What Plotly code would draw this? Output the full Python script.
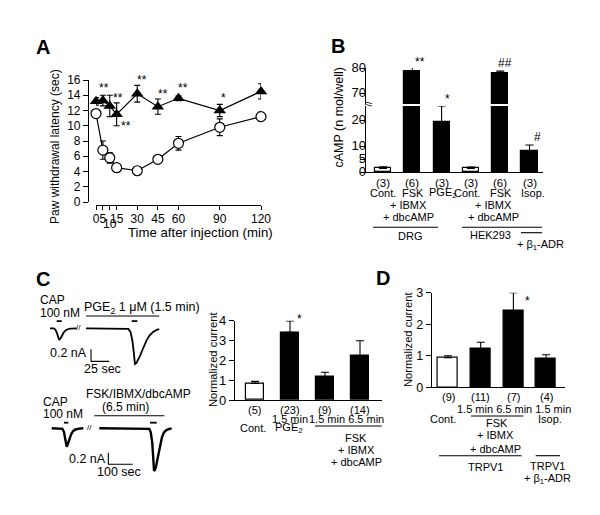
import plotly.graph_objects as go

W, H = 600, 515
def P(x): return x / W
def Q(y): return 1 - y / H

FONT = "Liberation Sans, Arial, Helvetica, sans-serif"

# ---------------- Panel A data ----------------
a_time = [0, 5, 10, 15, 30, 45, 60, 90, 120]
a_ctrl = [11.6, 6.8, 5.8, 4.5, 4.1, 5.6, 7.7, 9.8, 11.2]
a_ctrl_err = [0.3, 1.2, 0.7, 0.3, 0.2, 0.5, 0.9, 1.1, 0.6]
a_treat = [13.2, 13.3, 12.6, 11.5, 14.2, 12.5, 13.6, 12.0, 14.5]
a_treat_err = [0.5, 0.7, 1.4, 1.5, 1.1, 1.0, 0.3, 0.8, 1.0]
a_tickvals = [0, 5, 10, 15, 30, 45, 60, 90, 120]
a_ticktext = ["0", "5", "", "15", "30", "45", "60", "90", "120"]
a_star_text = ["**", "**", "**", "**", "**", "**", "*"]
a_star_x = [5.5, 16, 21.5, 33.5, 48.5, 63.5, 92.5]
a_star_y = [14.9, 13.7, 10.0, 16.0, 14.2, 15.0, 13.7]

# ---------------- Panel B data ----------------
b_n = ["(3)", "(6)", "(3)", "(3)", "(6)", "(3)"]
b_names = ["Cont.", "FSK", "PGE<sub>2</sub>", "Cont.", "FSK", "Isop."]
b_vals = [1.5, 78.7, 19.4, 1.5, 78.1, 8.3]
b_err = [0.6, 1.7, 6.1, 0.5, 0.8, 2.2]
b_fill = ["white", "black", "black", "white", "black", "black"]
b_low_ticks = [0, 5, 10, 20]
b_high_ticks = [70, 80]
b_star_text = ["**", "*", "##", "#"]
b_star_x = [1.25, 2.2, 4.15, 5.26]
b_star_y = [82.3, 68.0, 82.0, 13.4]

# ---------------- Panel C data ----------------
# current traces (time in sec, current in nA)
c1_seg1_t = [13.7, 19, 21, 23, 25, 26.4, 28, 30, 32.5, 35, 38, 42, 50.3]
c1_seg1_i = [0, 0, -0.02, -0.07, -0.15, -0.195, -0.17, -0.12, -0.07, -0.035, -0.015, -0.005, 0]
c1_seg2_t = [63, 90, 115, 121, 124, 126.5, 128.5, 130.1, 132, 134.5, 137, 140, 143, 146, 150, 155, 160, 163.4]
c1_seg2_i = [0.0, 0.0, 0.0, -0.01, -0.06, -0.2, -0.4, -0.595, -0.58, -0.53, -0.46, -0.37, -0.28, -0.2, -0.12, -0.06, -0.025, -0.015]
c1_cap_t = [[22.9, 29.7], [125.6, 133.3]]
c1_cap_i = 0.12
c1_drug_t = [63, 163.4]
c1_drug_i = 0.205
c1_scale_t = [69.9, 69.9, 94.9]
c1_scale_i = [-0.35, -0.55, -0.55]

c2_seg1_t = [48, 80, 92, 98, 104, 109.4, 114, 120, 127, 135, 145, 160, 177.5]
c2_seg1_i = [0, 0, -0.01, -0.06, -0.18, -0.317, -0.27, -0.19, -0.11, -0.05, -0.02, -0.005, 0]
c2_seg2_t = [243, 350, 440, 448, 454, 460, 464, 467.2, 471, 476, 482, 488, 494, 500, 508, 518, 530, 539.8]
c2_seg2_i = [0, 0, 0, -0.01, -0.07, -0.25, -0.5, -0.731, -0.72, -0.65, -0.52, -0.38, -0.25, -0.15, -0.07, -0.03, -0.01, 0]
c2_cap_t = [[98.4, 116], [450.8, 478.3]]
c2_cap_i = 0.097
c2_drug_t = [222.5, 509.4]
c2_drug_i = 0.217
c2_scale_t = [280, 280, 380]
c2_scale_i = [-0.42, -0.62, -0.62]

c_n = ["(5)", "(23)", "(9)", "(14)"]
c_vals = [0.84, 3.42, 1.18, 2.22]
c_err = [0.1, 0.57, 0.22, 0.77]
c_fill = ["white", "black", "black", "black"]
c_star = ("*", 1.27, 4.1)

# ---------------- Panel D data ----------------
d_n = ["(9)", "(11)", "(7)", "(4)"]
d_vals = [0.94, 1.22, 2.43, 0.9]
d_err = [0.06, 0.21, 0.57, 0.13]
d_fill = ["white", "black", "black", "black"]
d_star = ("*", 2.44, 2.75)

# ---------------- axis geometry (pixels of the 600x515 canvas) ----------------
A_X = dict(dom=(96, 261), rng=(0, 120))
A_Y = dict(dom=(202, 80), rng=(0, 16))
B_X = dict(dom=(366, 543), rng=(-0.58, 5.46))
B_YL = dict(dom=(172.3, 106), rng=(0, 25.5))
B_YH = dict(dom=(104, 68.3), rng=(66, 80))
C_X = dict(dom=(235, 381.7), rng=(-0.571, 3.62))
C_Y = dict(dom=(400, 320.7), rng=(0, 4))
D_X = dict(dom=(431.7, 565), rng=(-0.5, 3.58))
D_Y = dict(dom=(387.3, 292.7), rng=(0, 3))

def to_px(ax, v):
    (p0, p1), (r0, r1) = ax["dom"], ax["rng"]
    return p0 + (v - r0) / (r1 - r0) * (p1 - p0)

def xdom(ax):
    return [P(ax["dom"][0]), P(ax["dom"][1])]

def ydom(ax):
    return [Q(ax["dom"][0]), Q(ax["dom"][1])]

fig = go.Figure()
LW = 1.2

# ---- Panel A traces ----
fig.add_trace(go.Scatter(
    x=a_time, y=a_ctrl, mode="lines+markers", xaxis="x", yaxis="y",
    line=dict(color="black", width=LW),
    marker=dict(symbol="circle", size=10, color="white", line=dict(color="black", width=1.2)),
    error_y=dict(type="data", array=a_ctrl_err, color="black", thickness=1.1, width=3),
    cliponaxis=False))
fig.add_trace(go.Scatter(
    x=a_time, y=a_treat, mode="lines+markers", xaxis="x", yaxis="y",
    line=dict(color="black", width=LW),
    marker=dict(symbol="triangle-up", size=11, color="black"),
    error_y=dict(type="data", array=a_treat_err, color="black", thickness=1.1, width=3),
    cliponaxis=False))

# ---- Panel B bars (broken axis) ----
bx = list(range(len(b_vals)))
for ya in ["y2", "y3"]:
    fig.add_trace(go.Bar(
        x=bx, y=b_vals, xaxis="x2", yaxis=ya, width=0.55,
        marker=dict(color=b_fill, line=dict(color="black", width=1.2)),
        error_y=dict(type="data", symmetric=False, array=b_err, arrayminus=[0]*len(b_err),
                     color="black", thickness=1.1, width=4)))

# ---- Panel B tick labels of the broken axis, drawn as text on the axes ----
for ya, ticks in [("y2", b_low_ticks), ("y3", b_high_ticks)]:
    fig.add_trace(go.Scatter(
        x=[B_X["rng"][0]] * len(ticks), y=ticks, mode="text", xaxis="x2", yaxis=ya,
        text=[str(v) for v in ticks], textposition="middle left",
        textfont=dict(family=FONT, size=13, color="black"), cliponaxis=False,
        hoverinfo="skip"))

# ---- Panel C current traces ----
for t, i in [(c1_seg1_t, c1_seg1_i), (c1_seg2_t, c1_seg2_i)]:
    fig.add_trace(go.Scatter(x=t, y=i, mode="lines", xaxis="x3", yaxis="y4",
                             line=dict(color="black", width=1.8), cliponaxis=False))
for seg in c1_cap_t:
    fig.add_trace(go.Scatter(x=seg, y=[c1_cap_i]*2, mode="lines", xaxis="x3", yaxis="y4",
                             line=dict(color="black", width=1.8)))
fig.add_trace(go.Scatter(x=c1_drug_t, y=[c1_drug_i]*2, mode="lines", xaxis="x3", yaxis="y4",
                         line=dict(color="black", width=1.1)))
fig.add_trace(go.Scatter(x=c1_scale_t, y=c1_scale_i, mode="lines", xaxis="x3", yaxis="y4",
                         line=dict(color="black", width=1.1)))

for t, i in [(c2_seg1_t, c2_seg1_i), (c2_seg2_t, c2_seg2_i)]:
    fig.add_trace(go.Scatter(x=t, y=i, mode="lines", xaxis="x4", yaxis="y5",
                             line=dict(color="black", width=2.4), cliponaxis=False))
for seg in c2_cap_t:
    fig.add_trace(go.Scatter(x=seg, y=[c2_cap_i]*2, mode="lines", xaxis="x4", yaxis="y5",
                             line=dict(color="black", width=1.8)))
fig.add_trace(go.Scatter(x=c2_drug_t, y=[c2_drug_i]*2, mode="lines", xaxis="x4", yaxis="y5",
                         line=dict(color="black", width=1.1)))
fig.add_trace(go.Scatter(x=c2_scale_t, y=c2_scale_i, mode="lines", xaxis="x4", yaxis="y5",
                         line=dict(color="black", width=1.1)))

# ---- Panel C bars ----
fig.add_trace(go.Bar(
    x=list(range(len(c_vals))), y=c_vals, xaxis="x5", yaxis="y6", width=0.53,
    marker=dict(color=c_fill, line=dict(color="black", width=1.2)),
    error_y=dict(type="data", symmetric=False, array=c_err, arrayminus=[0]*len(c_err),
                 color="black", thickness=1.1, width=4)))

# ---- Panel D bars ----
fig.add_trace(go.Bar(
    x=list(range(len(d_vals))), y=d_vals, xaxis="x6", yaxis="y7", width=0.61,
    marker=dict(color=d_fill, line=dict(color="black", width=1.2)),
    error_y=dict(type="data", symmetric=False, array=d_err, arrayminus=[0]*len(d_err),
                 color="black", thickness=1.1, width=4)))

def axstyle(size, **kw):
    d = dict(showline=True, linecolor="black", linewidth=1.2, ticks="outside",
             ticklen=5, tickwidth=1.2, tickcolor="black", showgrid=False, zeroline=False,
             automargin=False, tickangle=0,
             tickfont=dict(family=FONT, size=size, color="black"))
    d.update(kw)
    return d

hidden = dict(visible=False, showgrid=False, zeroline=False, automargin=False)

layout = dict(
    template="none", autosize=False,
    width=W, height=H, margin=dict(l=0, r=0, t=0, b=0, pad=0),
    paper_bgcolor="white", plot_bgcolor="rgba(0,0,0,0)", showlegend=False, bargap=0,
    font=dict(family=FONT, color="black"),
    # Panel A
    xaxis=axstyle(12, domain=xdom(A_X), range=list(A_X["rng"]), anchor="free", position=Q(205),
                  tickmode="array", tickvals=a_tickvals, ticktext=a_ticktext,
                  ticklen=4, ticklabelstandoff=-2),
    yaxis=axstyle(12, domain=ydom(A_Y), range=list(A_Y["rng"]), anchor="free", position=P(88),
                  tickmode="linear", tick0=0, dtick=2),
    # Panel B
    xaxis2=axstyle(12, domain=xdom(B_X), range=list(B_X["rng"]), anchor="y2",
                   ticks="", showticklabels=False),
    yaxis2=axstyle(13, domain=ydom(B_YL), range=list(B_YL["rng"]), anchor="x2",
                   tickmode="array", tickvals=b_low_ticks, showticklabels=False),
    yaxis3=axstyle(13, domain=ydom(B_YH), range=list(B_YH["rng"]), anchor="x2",
                   tickmode="array", tickvals=b_high_ticks, showticklabels=False),
    # Panel C traces
    xaxis3=dict(hidden, domain=[P(40), P(200)], range=[0, 219.2], anchor="y4"),
    yaxis4=dict(hidden, domain=[Q(380), Q(300)], range=[-0.861, 0.472], anchor="x3"),
    xaxis4=dict(hidden, domain=[P(40), P(200)], range=[0, 655.7], anchor="y5"),
    yaxis5=dict(hidden, domain=[Q(480), Q(390)], range=[-0.891, 0.66], anchor="x4"),
    # Panel C bars
    xaxis5=axstyle(12, domain=xdom(C_X), range=list(C_X["rng"]), anchor="y6",
                   ticks="", showticklabels=False),
    yaxis6=axstyle(13, domain=ydom(C_Y), range=list(C_Y["rng"]), anchor="x5",
                   tickmode="linear", tick0=0, dtick=1),
    # Panel D bars
    xaxis6=axstyle(12, domain=xdom(D_X), range=list(D_X["rng"]), anchor="y7",
                   ticks="", showticklabels=False),
    yaxis7=axstyle(12.5, domain=ydom(D_Y), range=list(D_Y["rng"]), anchor="x6",
                   tickmode="linear", tick0=0, dtick=1),
)
fig.update_layout(**layout)

anns = []
def T(text, x, y, size=11, xanchor="center", angle=0, bold=False):
    anns.append(dict(text=("<b>%s</b>" % text) if bold else text, x=P(x), y=Q(y),
                     xref="paper", yref="paper", xanchor=xanchor, yanchor="middle",
                     showarrow=False, textangle=angle, borderpad=0,
                     font=dict(family=FONT, size=size, color="black")))

# panel letters
T("A", 35, 47, 20, xanchor="left", bold=True)
T("B", 330, 46, 20, xanchor="left", bold=True)
T("C", 35, 279, 20, xanchor="left", bold=True)
T("D", 375, 278, 20, xanchor="left", bold=True)

# Panel A texts
T("Paw withdrawal latency (sec)", 55, 146, 12, angle=-90)
T("Time after injection (min)", 200.5, 232, 13.2)
T("10", to_px(A_X, 10), 224, 12)
for s, x, y in zip(a_star_text, a_star_x, a_star_y):
    T(s, to_px(A_X, x), to_px(A_Y, y), 12)

# Panel B texts
T("cAMP (n mol/well)", 338, 117.5, 12.5, angle=-90)
T("//", 367, 104.5, 9, angle=90)
b_name_x = [383, 413, 443, 467, 501, 533]
for k, n in enumerate(b_n):
    T(n, to_px(B_X, k), 183, 11.5)
for nm, x in zip(b_names, b_name_x):
    T(nm, x, 193.5, 11)
for x in [408.3, 493]:
    T("+ IBMX", x, 205, 11)
    T("+ dbcAMP", x, 216.7, 11)
T("DRG", 410, 236, 11)
T("HEK293", 490, 235, 11)
T("+ β<sub>1</sub>-ADR", 540, 245, 11)
for s, x, y in zip(b_star_text, b_star_x, b_star_y):
    yp = to_px(B_YH, y) if y > B_YL["rng"][1] else to_px(B_YL, y)
    T(s, to_px(B_X, x), yp, 12)

# Panel C trace texts
T("CAP", 39, 300, 12, xanchor="left")
T("100 nM", 39, 313, 12, xanchor="left")
T("PGE<sub>2</sub> 1 μM (1.5 min)", 83, 308, 12.5, xanchor="left")
T("0.2 nA", 88, 353, 12.5, xanchor="right")
T("25 sec", 102, 369, 12.5)
T("//", 78.5, 327.5, 8)
T("CAP", 41.5, 401.5, 12, xanchor="left")
T("100 nM", 41.5, 414, 12, xanchor="left")
T("FSK/IBMX/dbcAMP", 138, 394, 12)
T("(6.5 min)", 125, 406.5, 12)
T("0.2 nA", 107, 459, 12.5, xanchor="right")
T("100 sec", 119, 471.5, 12.5)
T("//", 89.5, 427.5, 8)

# Panel C bar texts
T("Normalized current", 213, 360, 11.2, angle=-90)
for k, n in enumerate(c_n):
    T(n, to_px(C_X, k), 409.5, 11)
T("1.5 min", 289.5, 418.5, 11)
T("1.5 min 6.5 min", 346, 418.5, 11)
T("Cont.", 253, 427.5, 11)
T("PGE<sub>2</sub>", 289, 428, 11)
T("FSK", 356, 438, 11)
T("+ IBMX", 356, 449.5, 11)
T("+ dbcAMP", 356, 462, 11)
T(c_star[0], to_px(C_X, c_star[1]), to_px(C_Y, c_star[2]), 12)

# Panel D texts
T("Normalized current", 408, 340, 11.2, angle=-90)
for k, n in enumerate(d_n):
    T(n, to_px(D_X, k), 397, 11)
T("1.5 min 6.5 min 1.5 min", 514, 409, 11)
T("Cont.", 443, 419, 11)
T("FSK", 497, 422.5, 11)
T("Isop.", 550, 418.5, 11)
T("+ IBMX", 495, 435, 11)
T("+ dbcAMP", 495, 449, 11)
T("TRPV1", 485, 466.5, 11)
T("TRPV1", 547, 466, 11)
T("+ β<sub>1</sub>-ADR", 547, 478.5, 11)
T(d_star[0], to_px(D_X, d_star[1]), to_px(D_Y, d_star[2]), 12)

fig.update_layout(annotations=anns)

# grouping lines (paper coordinates)
group_lines = [
    (373, 438, 227.3), (462, 542, 227.3), (521, 542, 232.7),   # B
    (315, 381.7, 426),                                            # C
    (471, 523.3, 416), (439, 521.7, 455.7), (535.7, 560, 455.7),  # D
]
shapes = []
for x0, x1, y in group_lines:
    shapes.append(dict(type="line", xref="paper", yref="paper", x0=P(x0), x1=P(x1),
                       y0=Q(y), y1=Q(y), line=dict(color="black", width=1.1)))
fig.update_layout(shapes=shapes)

fig.write_html("out.html", config={"displayModeBar": False},
               post_script="document.body.style.margin='0';document.body.style.overflow='hidden';")
